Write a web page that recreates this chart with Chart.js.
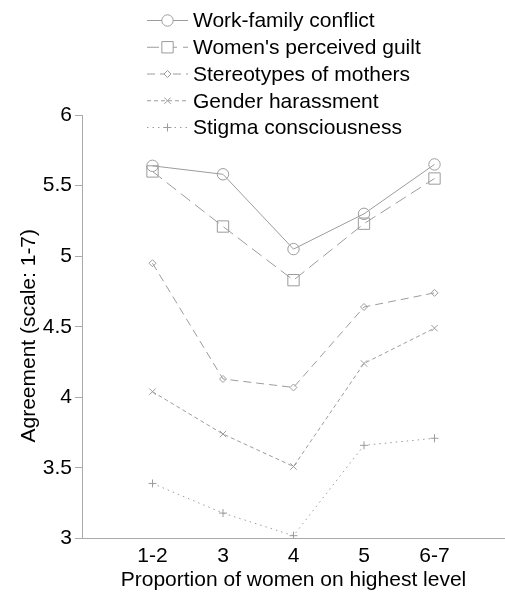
<!DOCTYPE html>
<html>
<head>
<meta charset="utf-8">
<script src="https://cdn.jsdelivr.net/npm/chart.js@4/dist/chart.umd.min.js"></script>
<style>
  body { margin: 0; background: #fff; }
  #wrap { width: 505px; height: 599px; position: relative; }
</style>
</head>
<body>
<div id="wrap"><canvas id="grafico"></canvas></div>
<script>
// datos
var categorias = ['1-2', '3', '4', '5', '6-7'];
var workFamily = [5.64, 5.58, 5.05, 5.30, 5.65];
var guilt = [5.60, 5.21, 4.83, 5.23, 5.55];
var stereotypes = [4.95, 4.13, 4.07, 4.64, 4.74];
var harassment = [4.04, 3.74, 3.51, 4.24, 4.49];
var stigma = [3.39, 3.18, 3.02, 3.66, 3.71];
var yTicks = [3, 3.5, 4, 4.5, 5, 5.5, 6];
var tituloY = 'Agreement (scale: 1-7)';

var gris = '#9c9c9c';
var fuente = 'Liberation Sans, Arial, sans-serif';
var tam = 21;

function puntos(valores) {
    var out = [];
    for (var i = 0; i < valores.length; i++) {
        out.push({x: i + 1, y: valores[i]});
    }
    return out;
}

function serie(nombre, valores, estilo, radio, dash) {
    return {
        label: nombre,
        data: puntos(valores),
        borderColor: gris,
        borderWidth: 1,
        borderDash: dash,
        pointStyle: estilo,
        pointRadius: radio,
        pointHoverRadius: radio,
        pointBorderColor: gris,
        pointBackgroundColor: 'rgba(0,0,0,0)',
        pointBorderWidth: 1,
        fill: false,
        tension: 0
    };
}

// leyenda a mano: una fila por serie, linea + marcador + texto
// y el titulo del eje y, un poco mas abajo que el centro
var leyenda = {
    id: 'leyenda',
    afterDraw: function(chart) {
        var ctx = chart.ctx;
        var sets = chart.data.datasets;
        ctx.save();
        for (var i = 0; i < sets.length; i++) {
            var ds = sets[i];
            var y = 20.5 + i * 26.75;
            ctx.strokeStyle = ds.borderColor;
            ctx.lineWidth = 1;
            ctx.setLineDash(ds.borderDash || []);
            ctx.beginPath();
            ctx.moveTo(147, y);
            ctx.lineTo(188, y);
            ctx.stroke();
            ctx.setLineDash([]);
            ctx.fillStyle = '#ffffff';
            Chart.helpers.drawPoint(ctx, {
                pointStyle: ds.pointStyle,
                radius: ds.pointRadius,
                rotation: 0,
                borderWidth: 1
            }, 167.5, y);
            ctx.fillStyle = '#000';
            ctx.font = tam + 'px ' + fuente;
            ctx.textBaseline = 'middle';
            ctx.textAlign = 'left';
            ctx.fillText(ds.label, 193, y + 1);
        }
        var area = chart.chartArea;
        ctx.translate(29, (area.top + area.bottom) / 2 + 9);
        ctx.rotate(-Math.PI / 2);
        ctx.textAlign = 'center';
        ctx.textBaseline = 'middle';
        ctx.fillText(tituloY, 0, 0);
        ctx.restore();
    }
};

var ctx = document.getElementById('grafico').getContext('2d');
var myChart = new Chart(ctx, {
    type: 'line',
    data: {
        datasets: [
            serie('Work-family conflict', workFamily, 'circle', 5.7, []),
            serie("Women's perceived guilt", guilt, 'rect', 8, [12, 6]),
            serie('Stereotypes of mothers', stereotypes, 'rectRot', 3.5, [8, 5]),
            serie('Gender harassment', harassment, 'crossRot', 4.5, [4, 3]),
            serie('Stigma consciousness', stigma, 'cross', 4, [1.5, 4])
        ]
    },
    options: {
        responsive: true,
        maintainAspectRatio: false,
        animation: false,
        layout: { autoPadding: false, padding: { top: 115, right: 0, left: 0, bottom: 0 } },
        plugins: {
            legend: { display: false },
            tooltip: { enabled: false }
        },
        scales: {
            x: {
                type: 'linear',
                min: 0,
                max: 6,
                afterFit: function(scale) {
                    scale.height = 60.5;
                    scale.paddingLeft = 0;
                    scale.paddingRight = 0;
                },
                afterBuildTicks: function(scale) {
                    scale.ticks = [0, 1, 2, 3, 4, 5, 6].map(function(v) { return {value: v}; });
                },
                ticks: {
                    autoSkip: false,
                    maxRotation: 0,
                    color: '#000',
                    padding: 5,
                    font: { family: fuente, size: tam },
                    callback: function(v) { return categorias[v - 1] || ''; }
                },
                grid: { display: false, drawTicks: false },
                border: { display: true, color: '#aaaaaa', width: 1 },
                title: {
                    display: true,
                    text: 'Proportion of women on highest level',
                    color: '#000',
                    font: { family: fuente, size: tam },
                    padding: { top: 0, bottom: 6 }
                }
            },
            y: {
                type: 'linear',
                min: 3,
                max: 6,
                afterFit: function(scale) { scale.width = 82; },
                afterBuildTicks: function(scale) {
                    scale.ticks = yTicks.map(function(v) { return {value: v}; });
                },
                ticks: {
                    color: '#000',
                    padding: 3,
                    font: { family: fuente, size: tam },
                    callback: function(v) { return String(v); }
                },
                grid: {
                    display: true,
                    drawOnChartArea: false,
                    drawTicks: true,
                    tickLength: 7,
                    color: '#aaaaaa'
                },
                border: { display: true, color: '#aaaaaa', width: 1 },
                title: { display: false }
            }
        }
    },
    plugins: [leyenda]
});
</script>
</body>
</html>
